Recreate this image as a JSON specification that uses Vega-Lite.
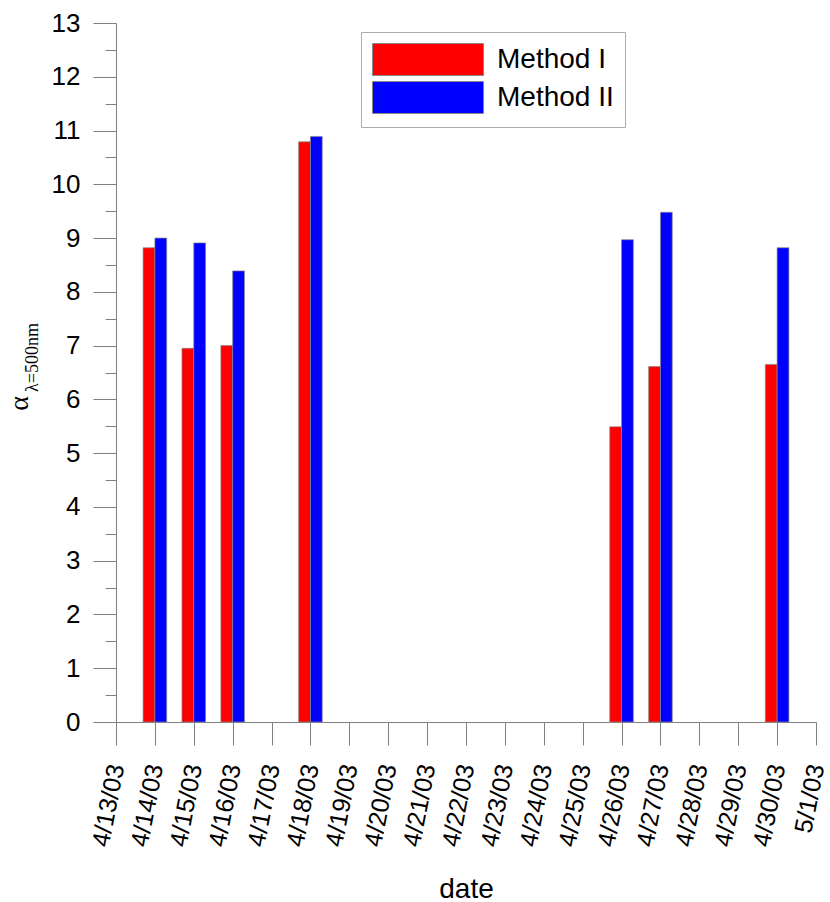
{
  "$schema": "https://vega.github.io/schema/vega-lite/v6.json",
  "width": 700,
  "height": 699,
  "autosize": {"type": "none"},
  "padding": {"left": 116, "top": 23, "right": 14, "bottom": 180},
  "background": "white",
  "config": {"view": {"stroke": null}, "font": "Liberation Sans"},
  "data": {
    "values": [
      {"date": "2003-04-14", "m1": 8.82, "m2": 9.0},
      {"date": "2003-04-15", "m1": 6.95, "m2": 8.91},
      {"date": "2003-04-16", "m1": 7.0, "m2": 8.39},
      {"date": "2003-04-18", "m1": 10.79, "m2": 10.89},
      {"date": "2003-04-26", "m1": 5.49, "m2": 8.97},
      {"date": "2003-04-27", "m1": 6.61, "m2": 9.48},
      {"date": "2003-04-30", "m1": 6.65, "m2": 8.82}
    ]
  },
  "encoding": {
    "x": {
      "field": "date",
      "type": "temporal",
      "scale": {
        "type": "utc",
        "padding": 0,
        "nice": false,
        "domain": [
          {"year": 2003, "month": 4, "date": 13, "utc": true},
          {"year": 2003, "month": 5, "date": 1, "utc": true}
        ]
      },
      "axis": {
        "orient": "bottom",
        "values": [
          {"year": 2003, "month": 4, "date": 13, "utc": true},
          {"year": 2003, "month": 4, "date": 14, "utc": true},
          {"year": 2003, "month": 4, "date": 15, "utc": true},
          {"year": 2003, "month": 4, "date": 16, "utc": true},
          {"year": 2003, "month": 4, "date": 17, "utc": true},
          {"year": 2003, "month": 4, "date": 18, "utc": true},
          {"year": 2003, "month": 4, "date": 19, "utc": true},
          {"year": 2003, "month": 4, "date": 20, "utc": true},
          {"year": 2003, "month": 4, "date": 21, "utc": true},
          {"year": 2003, "month": 4, "date": 22, "utc": true},
          {"year": 2003, "month": 4, "date": 23, "utc": true},
          {"year": 2003, "month": 4, "date": 24, "utc": true},
          {"year": 2003, "month": 4, "date": 25, "utc": true},
          {"year": 2003, "month": 4, "date": 26, "utc": true},
          {"year": 2003, "month": 4, "date": 27, "utc": true},
          {"year": 2003, "month": 4, "date": 28, "utc": true},
          {"year": 2003, "month": 4, "date": 29, "utc": true},
          {"year": 2003, "month": 4, "date": 30, "utc": true},
          {"year": 2003, "month": 5, "date": 1, "utc": true}
        ],
        "format": "%-m/%-d/%y",
        "labelAngle": -79,
        "labelAlign": "right",
        "labelBaseline": "middle",
        "labelOffset": 0,
        "labelPadding": 19,
        "labelFontSize": 25,
        "labelColor": "black",
        "labelFont": "Liberation Sans",
        "labelOverlap": false,
        "labelFlush": false,
        "tickSize": 23,
        "tickColor": "#808080",
        "domainColor": "#808080",
        "grid": false,
        "title": "date",
        "titleFont": "Liberation Sans",
        "titleFontSize": 28,
        "titleFontWeight": "normal",
        "titleColor": "black",
        "titleBaseline": "alphabetic",
        "titleY": 175
      }
    }
  },
  "layer": [
    {
      "mark": {"type": "bar", "width": 11.8, "xOffset": -5.9, "stroke": "#888888", "strokeWidth": 1, "strokeOpacity": 0.7},
      "encoding": {
        "y": {
          "field": "m1",
          "type": "quantitative",
          "scale": {"domain": [0, 13], "nice": false, "zero": true},
          "axis": {
            "orient": "left",
            "values": [0, 1, 2, 3, 4, 5, 6, 7, 8, 9, 10, 11, 12, 13],
            "tickSize": 23,
            "tickColor": "#808080",
            "domainColor": "#808080",
            "labelFontSize": 26,
            "labelFont": "Liberation Sans",
            "labelColor": "black",
            "labelPadding": 13,
            "labelFlush": false,
            "grid": false,
            "title": "α",
            "titleFont": "Liberation Serif",
            "titleFontSize": 28,
            "titleFontWeight": "normal",
            "titleColor": "black",
            "titleAngle": 270,
            "titleAlign": "center",
            "titleBaseline": "alphabetic",
            "titleX": -89,
            "titleY": 380
          }
        },
        "color": {
          "datum": "Method I",
          "scale": {"domain": ["Method I", "Method II"], "range": ["#ff0000", "#0000ff"]},
          "legend": {
            "orient": "none",
            "legendX": 245,
            "legendY": 9,
            "title": null,
            "strokeColor": "#aaaaaa",
            "fillColor": "white",
            "padding": 11,
            "symbolType": "M-1,-1H5.9375V1H-1Z",
            "symbolSize": 1024,
            "symbolStrokeColor": "#999999",
            "symbolStrokeWidth": 1,
            "symbolOpacity": 1,
            "labelFontSize": 28,
            "labelFont": "Liberation Sans",
            "labelColor": "black",
            "labelOffset": 92,
            "rowPadding": 1,
            "labelLimit": 300
          }
        }
      }
    },
    {
      "mark": {"type": "bar", "width": 11.8, "xOffset": 5.9, "stroke": "#888888", "strokeWidth": 1, "strokeOpacity": 0.7},
      "encoding": {
        "y": {
          "field": "m2",
          "type": "quantitative",
          "axis": {
            "orient": "left",
            "values": [0.5, 1.5, 2.5, 3.5, 4.5, 5.5, 6.5, 7.5, 8.5, 9.5, 10.5, 11.5, 12.5],
            "tickSize": 11,
            "tickColor": "#808080",
            "domain": false,
            "labels": false,
            "grid": false,
            "title": "λ=500nm",
            "titleFont": "Liberation Serif",
            "titleFontSize": 18,
            "titleFontWeight": "normal",
            "titleColor": "black",
            "titleAngle": 270,
            "titleAlign": "center",
            "titleBaseline": "alphabetic",
            "titleX": -79,
            "titleY": 334
          }
        },
        "color": {"datum": "Method II"}
      }
    }
  ],
  "resolve": {"axis": {"y": "independent"}}
}
